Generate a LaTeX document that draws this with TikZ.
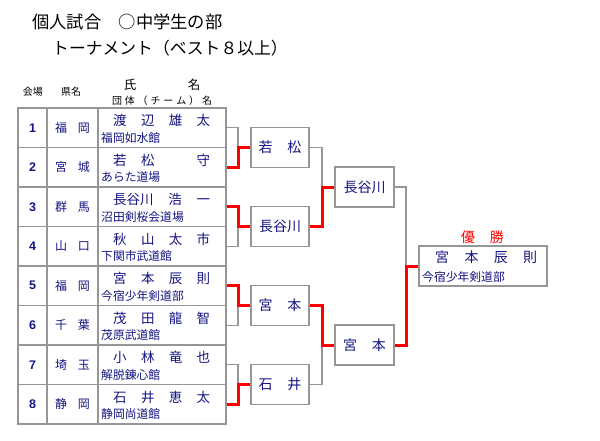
\documentclass[tikz,border=0pt]{standalone}
\usepackage{fontspec}
\setmainfont{Noto Sans CJK JP}
\newfontfamily\jp{Noto Sans CJK JP}
\newfontfamily\numfont{Liberation Sans}
\definecolor{txtnavy}{RGB}{20,20,130}
\definecolor{linegray}{RGB}{150,150,150}
\definecolor{winred}{RGB}{255,0,0}
\newcommand\jspread[2]{\makebox[#1][s]{#2}}
\newcommand\fs[1]{\fontsize{#1}{#1}\selectfont}
\newcommand\hf{\hfill}
\begin{document}
\begin{tikzpicture}[x=1pt,y=-1pt,
  cell/.style={draw=linegray,line width=1.3pt,inner sep=0pt,minimum height=39.5pt,font=\jp\fs{12},text=txtnavy},
  nametxt/.style={inner sep=0pt,font=\jp\fs{13.5},text=txtnavy},
  teamtxt/.style={inner sep=0pt,font=\jp\fs{11.8},text=txtnavy},
  headtxt/.style={inner sep=0pt,text=black},
  rbox/.style={draw=linegray,line width=1.3pt,fill=white,inner sep=0pt,minimum height=40pt,font=\jp\fs{14},text=txtnavy},
  grayline/.style={draw=linegray,line width=1.3pt},
  redline/.style={draw=winred,line width=3pt}]
\useasboundingbox (0,0) rectangle (600,440);
% titles
\node[headtxt,anchor=west,font=\jp\fs{17.3}] (title1) at (32,22) {個人試合　○中学生の部};
\node[headtxt,anchor=west,font=\jp\fs{16.8}] (title2) at (52,48) {トーナメント（ベスト８以上）};
% header
\node[headtxt,font=\jp\fs{10}] (h1) at (33,92) {会場};
\node[headtxt,font=\jp\fs{10}] (h2) at (71,92) {県名};
\node[headtxt,font=\jp\fs{12.5}] (h3) at (130,85) {氏};
\node[headtxt,font=\jp\fs{12.5}] (h4) at (194,85) {名};
\node[headtxt,font=\jp\fs{10}] (h5) at (162,101) {\jspread{100pt}{団\hf{}体\hf{}（\hf{}チ\hf{}ー\hf{}ム\hf{}）\hf{}名}};
% rows
\foreach \i/\pref/\name/\team in {
  1/{福\hf{}岡}/{渡\hf{}辺\hf{}雄\hf{}太}/福岡如水館,
  2/{宮\hf{}城}/{若\hf{}松\hf{}\hphantom{若}\hf{}守}/あらた道場,
  3/{群\hf{}馬}/{長谷川\hf{}浩\hf{}一}/沼田剣桜会道場,
  4/{山\hf{}口}/{秋\hf{}山\hf{}太\hf{}市}/下関市武道館,
  5/{福\hf{}岡}/{宮\hf{}本\hf{}辰\hf{}則}/今宿少年剣道部,
  6/{千\hf{}葉}/{茂\hf{}田\hf{}龍\hf{}智}/茂原武道館,
  7/{埼\hf{}玉}/{小\hf{}林\hf{}竜\hf{}也}/解脱錬心館,
  8/{静\hf{}岡}/{石\hf{}井\hf{}恵\hf{}太}/静岡尚道館}{
  \pgfmathsetmacro\yc{127.75+39.5*(\i-1)}
  \node[cell,minimum width=29pt,font=\numfont\bfseries\fs{12.5}] (c\i) at (32.5,\yc) {\i};
  \node[cell,minimum width=51pt] (k\i) at (72.5,\yc) {\jspread{35pt}{\pref}};
  \node[cell,minimum width=128pt] (p\i) at (162,\yc) {};
  \node[nametxt,anchor=west] (n\i) at (113,\yc-7) {\jspread{97pt}{\name}};
  \node[teamtxt,anchor=west] (t\i) at (101,\yc+10) {\team};
}
% round 1 boxes
\node[rbox,minimum width=58pt] (w1) at (280,147.5) {\jspread{43pt}{若\hf{}松}};
\node[rbox,minimum width=58pt] (w2) at (280,226.5) {長谷川};
\node[rbox,minimum width=58pt] (w3) at (280,305.5) {\jspread{43pt}{宮\hf{}本}};
\node[rbox,minimum width=58pt] (w4) at (280,384.5) {\jspread{43pt}{石\hf{}井}};
% round 2 boxes
\node[rbox,minimum width=59pt] (s1) at (364.5,187) {長谷川};
\node[rbox,minimum width=59pt] (s2) at (364.5,345) {\jspread{43pt}{宮\hf{}本}};
% champion
\node[rbox,minimum width=128pt] (champ) at (483,266) {};
\node[nametxt,anchor=west,font=\jp\fs{14}] (cn) at (435,257) {\jspread{102pt}{宮\hf{}本\hf{}辰\hf{}則}};
\node[teamtxt,anchor=west] (ct) at (422,277) {今宿少年剣道部};
\node[inner sep=0pt,font=\jp\fs{14},text=winred] (yusho) at (482.5,237) {\jspread{43pt}{優\hf{}勝}};
% junctions
\coordinate (j1) at (238,147.5);
\coordinate (j2) at (238,226.5);
\coordinate (j3) at (238,305.5);
\coordinate (j4) at (238,384.5);
\coordinate (k1j) at (322,187);
\coordinate (k2j) at (322,345);
\coordinate (fj) at (406,266);
% gray (losing) lines
\draw[grayline] (p1.east) -| (j1);
\draw[grayline] (p4.east) -| (j2);
\draw[grayline] (p6.east) -| (j3);
\draw[grayline] (p7.east) -| (j4);
\draw[grayline] (w1.east) -| (k1j);
\draw[grayline] (w4.east) -| (k2j);
\draw[grayline] (s1.east) -| (fj);
% red (winning) lines
\draw[redline] (p2.east) -| (j1) -- (w1.west);
\draw[redline] (p3.east) -| (j2) -- (w2.west);
\draw[redline] (p5.east) -| (j3) -- (w3.west);
\draw[redline] (p8.east) -| (j4) -- (w4.west);
\draw[redline] (w2.east) -| (k1j) -- (s1.west);
\draw[redline] (w3.east) -| (k2j) -- (s2.west);
\draw[redline] (s2.east) -| (fj) -- (champ.west);
\end{tikzpicture}
\end{document}
